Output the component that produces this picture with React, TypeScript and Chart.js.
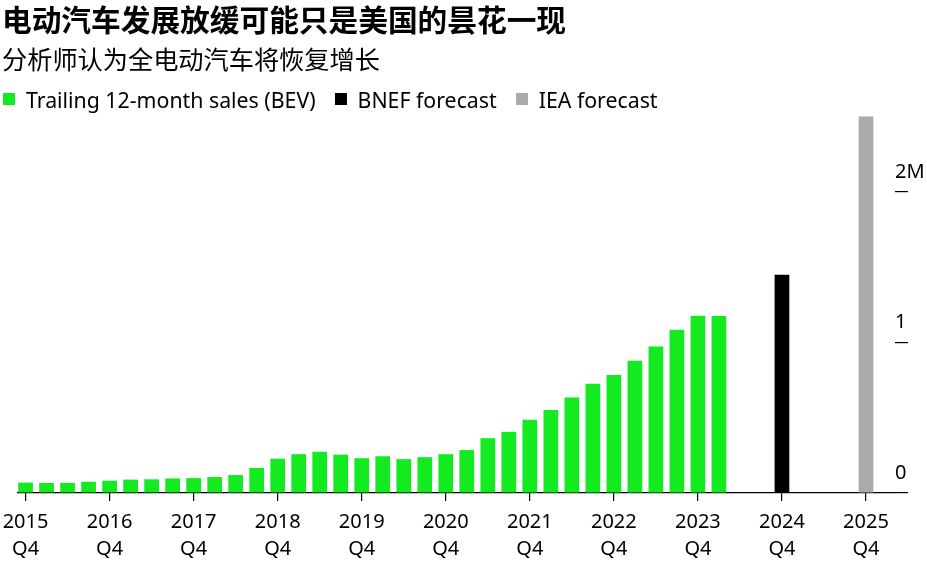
import { useEffect, useRef } from 'react'
import Chart from 'chart.js/auto'

// quarter index 0 = 2015 Q4
const tickYears = ['2015', '2016', '2017', '2018', '2019', '2020', '2021', '2022', '2023', '2024', '2025']
const tickQuarter = 'Q4'

// trailing 12-month BEV sales, millions, 2015 Q4 .. 2024 Q1
const salesBEV = [
  0.069, 0.067, 0.067, 0.075, 0.082, 0.089, 0.091, 0.097, 0.099, 0.106, 0.119, 0.166,
  0.228, 0.258, 0.274, 0.255, 0.231, 0.244, 0.225, 0.238, 0.258, 0.285, 0.364, 0.406,
  0.486, 0.552, 0.634, 0.726, 0.784, 0.879, 0.973, 1.084, 1.177, 1.175,
]
const bnefQuarter = 36 // 2024 Q4
const bnefValue = 1.45
const ieaQuarter = 40 // 2025 Q4
const ieaValue = 2.5

const yTicks = [0, 1, 2]

const GREEN = '#13ea20'
const FONT = '"Noto Sans", "Noto Sans CJK SC", sans-serif'

function SalesChart() {
  const canvasRef = useRef<HTMLCanvasElement | null>(null)
  const chartRef = useRef<Chart | null>(null)

  useEffect(() => {
    const ctx = canvasRef.current?.getContext('2d')
    if (!ctx) return

    const data = {
      datasets: [
        {
          label: 'Trailing 12-month sales (BEV)',
          data: salesBEV.map((v, i) => ({ x: i, y: v })),
          backgroundColor: GREEN,
        },
        {
          label: 'BNEF forecast',
          data: [{ x: bnefQuarter, y: bnefValue }],
          backgroundColor: '#000000',
        },
        {
          label: 'IEA forecast',
          data: [{ x: ieaQuarter, y: ieaValue }],
          backgroundColor: '#aaaaaa',
        },
      ],
    }

    chartRef.current = new Chart(ctx, {
      type: 'bar',
      data,
      options: {
        animation: false,
        responsive: true,
        maintainAspectRatio: false,
        layout: { padding: { left: 18, top: 109, right: 0, bottom: 0 } },
        datasets: {
          bar: { grouped: false, barPercentage: 0.7, categoryPercentage: 1, borderWidth: 0 },
        },
        plugins: {
          legend: { display: false },
          tooltip: { enabled: false },
        },
        scales: {
          x: {
            type: 'linear',
            min: -0.36,
            max: 41.38,
            offset: false,
            afterBuildTicks: (scale: any) => {
              scale.ticks = tickYears.map((_, i) => ({ value: i * 4 }))
            },
            afterFit: (scale: any) => {
              scale.height = 77
              scale.paddingLeft = 0
              scale.paddingRight = 0
            },
            ticks: {
              autoSkip: false,
              maxRotation: 0,
              color: '#000',
              padding: 8,
              font: { family: FONT, size: 20, lineHeight: 1.35 },
              callback: (value: any) => [tickYears[Math.round(Number(value) / 4)], tickQuarter],
            },
            grid: { drawOnChartArea: false, offset: false, tickLength: 8, color: '#000', lineWidth: 1.2 },
            border: { display: true, color: '#000', width: 1.3 },
          },
          y: {
            position: 'right',
            min: 0,
            max: 2.55,
            afterBuildTicks: (scale: any) => {
              scale.ticks = yTicks.map((v) => ({ value: v }))
            },
            afterFit: (scale: any) => {
              scale.width = 32
            },
            ticks: {
              color: '#000',
              padding: -13,
              labelOffset: -20,
              font: { family: FONT, size: 20 },
              callback: (value: any) => (Number(value) === 2 ? '2M' : String(value)),
            },
            grid: { drawOnChartArea: false, tickLength: 13, color: '#000', lineWidth: 1.2 },
            border: { display: false },
          },
        },
      } as any,
    })

    return () => {
      chartRef.current?.destroy()
      chartRef.current = null
    }
  }, [])

  return <canvas ref={canvasRef} />
}

const legendItems = [
  { label: 'Trailing 12-month sales (BEV)', color: GREEN },
  { label: 'BNEF forecast', color: '#000000' },
  { label: 'IEA forecast', color: '#aaaaaa' },
]

export default function App() {
  return (
    <div
      style={{
        position: 'fixed',
        left: 0,
        top: 0,
        width: 927,
        height: 570,
        background: '#fff',
        fontFamily: FONT,
        color: '#000',
      }}
    >
      <div style={{ position: 'absolute', inset: 0 }}>
        <SalesChart />
      </div>
      <div
        style={{
          position: 'absolute',
          left: 2,
          top: 5,
          fontSize: 29.7,
          lineHeight: '30px',
          fontWeight: 700,
          whiteSpace: 'nowrap',
        }}
      >
        电动汽车发展放缓可能只是美国的昙花一现
      </div>
      <div
        style={{
          position: 'absolute',
          left: 2,
          top: 47,
          fontSize: 25.2,
          lineHeight: '25px',
          whiteSpace: 'nowrap',
        }}
      >
        分析师认为全电动汽车将恢复增长
      </div>
      <div
        style={{
          position: 'absolute',
          left: 3,
          top: 87,
          height: 24,
          display: 'flex',
          alignItems: 'center',
          fontSize: 21.3,
          whiteSpace: 'nowrap',
        }}
      >
        {legendItems.map((item) => (
          <div key={item.label} style={{ display: 'flex', alignItems: 'center', marginRight: 19 }}>
            <span style={{ width: 12, height: 12, background: item.color, marginRight: 11 }} />
            <span>{item.label}</span>
          </div>
        ))}
      </div>
    </div>
  )
}
